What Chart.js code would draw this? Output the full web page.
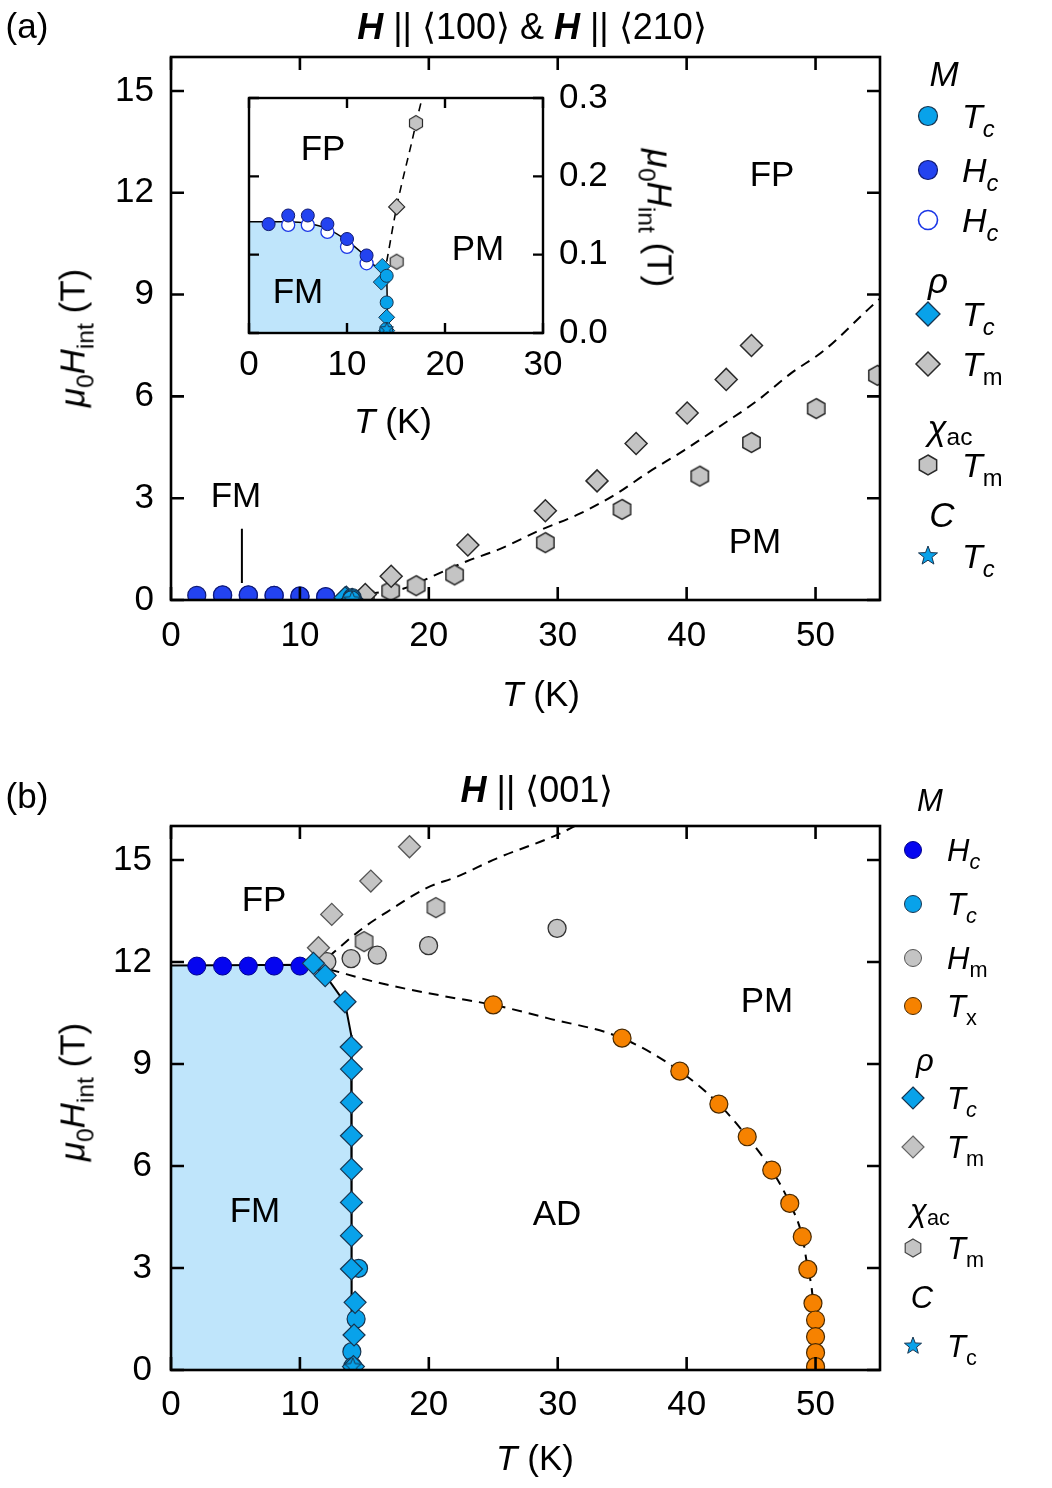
<!DOCTYPE html>
<html><head><meta charset="utf-8">
<script src="https://cdn.jsdelivr.net/npm/chart.js@4.4.1/dist/chart.umd.min.js"></script>
<style>
html,body{margin:0;padding:0;background:#fff;}
#wrap{position:relative;width:1052px;height:1488px;overflow:hidden;font-family:'Liberation Sans',Arial,sans-serif;color:#000;}
canvas{position:absolute;}
.t{position:absolute;white-space:nowrap;line-height:1;transform:translate(-50%,-50%);font-size:35px;}
.ti{font-size:36px;}
.l{position:absolute;white-space:nowrap;line-height:1;transform:translateY(-50%);font-size:34px;}
.lb{font-size:31px;}
.i{font-style:italic;}
.sub{position:relative;top:0.36em;font-size:0.7em;}
.rotL{transform:translate(-50%,-50%) rotate(-90deg);}
.rotR{transform:translate(-50%,-50%) rotate(90deg);}
</style></head>
<body><div id="wrap">
<canvas id="cA" width="1052" height="740" style="left:0;top:0;width:1052px;height:740px"></canvas>
<canvas id="cI" width="440" height="350" style="left:200px;top:50px;width:440px;height:350px"></canvas>
<canvas id="cB" width="1052" height="728" style="left:0;top:760px;width:1052px;height:728px"></canvas>

<!-- panel (a) texts -->
<div class="t" style="left:27px;top:25px">(a)</div>
<div class="t ti" style="left:532px;top:27px"><b><i>H</i></b> || ⟨100⟩ &amp; <b><i>H</i></b> || ⟨210⟩</div>
<div class="t" style="left:772px;top:173px">FP</div>
<div class="t" style="left:755px;top:540px">PM</div>
<div class="t" style="left:236px;top:494px">FM</div>
<div class="t" style="left:323px;top:147px">FP</div>
<div class="t" style="left:478px;top:247px">PM</div>
<div class="t" style="left:298px;top:290px">FM</div>
<div class="t" style="left:541px;top:693px"><span class="i">T</span> (K)</div>
<div class="t" style="left:393px;top:420px"><span class="i">T</span> (K)</div>
<div class="t rotL" style="left:72px;top:338px"><span class="i">μ</span><span class="sub">0</span><span class="i">H</span><span class="sub">int</span> (T)</div>
<div class="t rotR" style="left:660px;top:218px"><span class="i">μ</span><span class="sub">0</span><span class="i">H</span><span class="sub">int</span> (T)</div>
<!-- legend (a) -->
<div class="t i" style="left:944px;top:73px">M</div>
<div class="l" style="left:962px;top:116px"><span class="i">T</span><span class="sub i">c</span></div>
<div class="l" style="left:962px;top:170px"><span class="i">H</span><span class="sub i">c</span></div>
<div class="l" style="left:962px;top:220px"><span class="i">H</span><span class="sub i">c</span></div>
<div class="t i" style="left:938px;top:280px">ρ</div>
<div class="l" style="left:962px;top:314px"><span class="i">T</span><span class="sub i">c</span></div>
<div class="l" style="left:962px;top:364px"><span class="i">T</span><span class="sub">m</span></div>
<div class="t" style="left:950px;top:427px"><span class="i">χ</span><span class="sub" style="top:0.2em">ac</span></div>
<div class="l" style="left:962px;top:465px"><span class="i">T</span><span class="sub">m</span></div>
<div class="t i" style="left:942px;top:514px">C</div>
<div class="l" style="left:962px;top:556px"><span class="i">T</span><span class="sub i">c</span></div>

<!-- panel (b) texts -->
<div class="t" style="left:27px;top:795px">(b)</div>
<div class="t ti" style="left:537px;top:790px"><b><i>H</i></b> || ⟨001⟩</div>
<div class="t" style="left:264px;top:898px">FP</div>
<div class="t" style="left:767px;top:999px">PM</div>
<div class="t" style="left:255px;top:1209px">FM</div>
<div class="t" style="left:557px;top:1212px">AD</div>
<div class="t" style="left:535px;top:1457px"><span class="i">T</span> (K)</div>
<div class="t rotL" style="left:72px;top:1092px"><span class="i">μ</span><span class="sub">0</span><span class="i">H</span><span class="sub">int</span> (T)</div>
<!-- legend (b) -->
<div class="t i lb" style="left:930px;top:800px">M</div>
<div class="l lb" style="left:947px;top:850px"><span class="i">H</span><span class="sub i">c</span></div>
<div class="l lb" style="left:947px;top:904px"><span class="i">T</span><span class="sub i">c</span></div>
<div class="l lb" style="left:947px;top:958px"><span class="i">H</span><span class="sub">m</span></div>
<div class="l lb" style="left:947px;top:1006px"><span class="i">T</span><span class="sub">x</span></div>
<div class="t i lb" style="left:925px;top:1060px">ρ</div>
<div class="l lb" style="left:947px;top:1098px"><span class="i">T</span><span class="sub i">c</span></div>
<div class="l lb" style="left:947px;top:1147px"><span class="i">T</span><span class="sub">m</span></div>
<div class="t lb" style="left:930px;top:1210px"><span class="i">χ</span><span class="sub" style="top:0.2em">ac</span></div>
<div class="l lb" style="left:947px;top:1248px"><span class="i">T</span><span class="sub">m</span></div>
<div class="t i lb" style="left:922px;top:1297px">C</div>
<div class="l lb" style="left:947px;top:1346px"><span class="i">T</span><span class="sub">c</span></div>
</div>

<script>
// ================= DATA: panel (a)  H || <100> & <210> =================
const aXTicks = [0, 10, 20, 30, 40, 50];
const aYTicks = [0, 3, 6, 9, 12, 15];
const insXTicks = [0, 10, 20, 30];
const insYTicks = [0, 0.1, 0.2, 0.3];

// M: Tc (cyan circles)
const aMTcT = [14.05, 14.05, 14.0];
const aMTcH = [0.073, 0.039, 0.005];
// M: Hc (filled blue circles)
const aMHcT = [2, 4, 6, 8, 10, 12];
const aMHcH = [0.139, 0.150, 0.150, 0.139, 0.120, 0.099];
// M: Hc (open circles)
const aMHoT = [4, 6, 8, 10, 12];
const aMHoH = [0.138, 0.138, 0.129, 0.110, 0.089];
// rho: Tc (cyan diamonds)
const aRTcT = [13.6, 13.5, 14.05, 14.05];
const aRTcH = [0.085, 0.065, 0.02, 0.003];
// rho: Tm (gray diamonds)
const aRTmT = [15.07, 17.08, 23.03, 29.04, 33.05, 36.08, 40.04, 43.07, 45.03];
const aRTmH = [0.161, 0.70, 1.62, 2.63, 3.51, 4.61, 5.51, 6.50, 7.50];
// chi_ac: Tm (gray hexagons)
const aXTmT = [15.07, 17.04, 19.02, 22.0, 29.04, 34.99, 41.02, 45.03, 50.05, 54.8];
const aXTmH = [0.091, 0.268, 0.42, 0.74, 1.69, 2.67, 3.65, 4.64, 5.64, 6.62];
// C: Tc (star)
const aCTcT = [14.05];
const aCTcH = [0.005];
// FP / PM crossover (dashed)
const aDashT = [14.05, 15.07, 17.04, 18.0, 20.4, 23.0, 25.3, 28.65, 31.75, 34.6, 36.9, 39.8, 42.9, 45.5, 48.06, 50.65, 54.27, 55];
const aDashH = [0.091, 0.161, 0.268, 0.33, 0.72, 1.15, 1.47, 2.06, 2.55, 3.14, 3.73, 4.41, 5.2, 5.88, 6.67, 7.35, 8.63, 8.88];
// FM boundary (inset, solid + fill)
const aFmT = [0, 2, 4, 6, 8, 10, 12, 13, 14.05, 14.15];
const aFmH = [0.142, 0.142, 0.142, 0.140, 0.133, 0.118, 0.097, 0.085, 0.072, 0.0];
// leader line under "FM" label
const aLeadT = [5.5, 5.5];
const aLeadH = [0.5, 2.1];

// ================= DATA: panel (b)  H || <001> =================
const bXTicks = [0, 10, 20, 30, 40, 50];
const bYTicks = [0, 3, 6, 9, 12, 15];
const bMHcT = [2, 4, 6, 8, 10];
const bMHcH = [11.88, 11.88, 11.88, 11.88, 11.88];
const bMTcT = [14.55, 14.36, 14.03, 14.1];
const bMTcH = [2.99, 1.5, 0.54, 0.1];
const bMHmT = [12.09, 13.97, 16.0, 19.98, 29.95];
const bMHmH = [12.01, 12.1, 12.2, 12.48, 12.99];
const bMTxT = [25.0, 34.99, 39.47, 42.5, 44.7, 46.6, 48.0, 48.97, 49.4, 49.8, 50.0, 50.0, 50.0, 50.0];
const bMTxH = [10.74, 9.76, 8.79, 7.82, 6.86, 5.88, 4.9, 3.92, 2.96, 1.96, 1.47, 0.98, 0.51, 0.1];
const bRTcT = [11.05, 11.96, 13.5, 13.98, 14.0, 14.0, 14.0, 14.0, 14.0, 14.0, 14.0, 14.28, 14.2, 14.15];
const bRTcH = [11.96, 11.6, 10.83, 9.5, 8.85, 7.87, 6.89, 5.91, 4.93, 3.95, 2.97, 1.99, 1.03, 0.1];
const bRTmT = [11.44, 12.47, 15.5, 18.5];
const bRTmH = [12.42, 13.4, 14.38, 15.39];
const bXTmT = [14.98, 20.55];
const bXTmH = [12.6, 13.6];
const bCTcT = [14.1];
const bCTcH = [0.1];
const bFmT = [0, 11.0, 12.0, 13.5, 13.98, 14.0, 14.03];
const bFmH = [11.9, 11.92, 11.6, 10.8, 9.85, 5.0, 0.0];
const bUpT = [12.2, 14.9, 17.0, 19.85, 22.18, 25.29, 29.95, 31.6];
const bUpH = [12.15, 13.0, 13.53, 14.18, 14.51, 15.05, 15.74, 16.05];
const bLoT = [12.3, 16.2, 21.4, 25.0, 29.2, 34.99, 39.47, 42.5, 44.7, 46.6, 48.0, 48.97, 49.4, 49.8, 50.0];
const bLoH = [11.78, 11.38, 10.98, 10.74, 10.35, 9.76, 8.79, 7.82, 6.86, 5.88, 4.9, 3.92, 2.96, 1.96, 0.0];

// ================= styles =================
const C_CYAN = '#08a2ea', C_CYAN_E = '#17344f';
const C_BLUE = '#2343f0', C_BLUE_E = '#101a70';
const C_BLUE2 = '#0505f0', C_BLUE2_E = '#00008a';
const C_GRAY = '#c4c4c4', C_GRAY_E = '#2a2a2a';
const C_ORANGE = '#f68200', C_ORANGE_E = '#4a2a00';
const C_FILL = '#bfe5fb';

Chart.defaults.font.family = "'Liberation Sans', Arial, sans-serif";
Chart.defaults.color = '#000';

const xy = (xs, ys) => xs.map((x, i) => ({x: x, y: ys[i]}));

function drawMarker(g, shape, x, y, r, fill, stroke, lw) {
  g.save(); g.beginPath();
  if (shape === 'circle') g.arc(x, y, r, 0, 2 * Math.PI);
  else if (shape === 'diamond') { g.moveTo(x, y - r); g.lineTo(x + r, y); g.lineTo(x, y + r); g.lineTo(x - r, y); g.closePath(); }
  else if (shape === 'hex') {
    for (let k = 0; k < 6; k++) { const a = -Math.PI / 2 + k * Math.PI / 3; const px = x + r * Math.cos(a), py = y + r * Math.sin(a); if (k) g.lineTo(px, py); else g.moveTo(px, py); }
    g.closePath();
  } else if (shape === 'star') {
    for (let k = 0; k < 10; k++) { const a = -Math.PI / 2 + k * Math.PI / 5; const rr = (k % 2) ? r * 0.42 : r; const px = x + rr * Math.cos(a), py = y + rr * Math.sin(a); if (k) g.lineTo(px, py); else g.moveTo(px, py); }
    g.closePath();
  }
  g.fillStyle = fill; g.fill();
  if (lw > 0) { g.lineWidth = lw; g.strokeStyle = stroke; g.lineJoin = 'miter'; g.stroke(); }
  g.restore();
}
function makeImg(shape, r, fill, stroke, lw) {
  const c = document.createElement('canvas');
  const s = Math.ceil(2 * r + 2 * lw + 2);
  c.width = s; c.height = s;
  drawMarker(c.getContext('2d'), shape, s / 2, s / 2, r, fill, stroke, lw);
  return c;
}
function pts(label, data, shape, r, fill, stroke, lw, order) {
  const d = {label: label, data: data, showLine: false, order: order, clip: 0,
    pointBackgroundColor: fill, pointBorderColor: stroke, pointBorderWidth: lw,
    pointRadius: r, pointHoverRadius: r};
  if (shape === 'circle') d.pointStyle = 'circle';
  else if (shape === 'diamond') d.pointStyle = 'rectRot';
  else d.pointStyle = makeImg(shape, r, fill, stroke, lw);
  return d;
}
function line(label, data, dash, order, extra) {
  return Object.assign({label: label, data: data, showLine: true, pointRadius: 0, pointHoverRadius: 0,
    borderColor: '#000', borderWidth: 2, borderDash: dash, fill: false, order: order, clip: 0,
    cubicInterpolationMode: 'monotone'}, extra || {});
}
function frame(len, lw) {
  return {id: 'frame', afterDatasetsDraw(chart) {
    const ctx = chart.ctx, a = chart.chartArea, x = chart.scales.x, y = chart.scales.y;
    ctx.save(); ctx.strokeStyle = '#000'; ctx.lineWidth = lw; ctx.lineCap = 'butt';
    ctx.beginPath();
    x.ticks.forEach(t => { const p = x.getPixelForValue(t.value); ctx.moveTo(p, a.bottom); ctx.lineTo(p, a.bottom - len); ctx.moveTo(p, a.top); ctx.lineTo(p, a.top + len); });
    y.ticks.forEach(t => { const p = y.getPixelForValue(t.value); ctx.moveTo(a.left, p); ctx.lineTo(a.left + len, p); ctx.moveTo(a.right, p); ctx.lineTo(a.right - len, p); });
    ctx.stroke();
    ctx.strokeRect(a.left, a.top, a.right - a.left, a.bottom - a.top);
    ctx.restore();
  }};
}
function legendPlugin(items, dy) {
  return {id: 'lg', afterDraw(chart) {
    const ctx = chart.ctx;
    items.forEach(it => drawMarker(ctx, it[0], it[1], it[2] - dy, it[3], it[4], it[5], it[6]));
  }};
}
function axis(ticksArr, min, max, size, pad, fit, pos, cb) {
  const o = {type: 'linear', min: min, max: max, position: pos,
    grid: {display: false, drawTicks: false, tickLength: 0}, border: {display: false},
    ticks: {font: {size: size}, color: '#000', padding: pad, maxRotation: 0, autoSkip: false},
    afterBuildTicks: s => { s.ticks = ticksArr.map(v => ({value: v})); },
    afterFit: s => { if (s.isHorizontal()) s.height = fit; else s.width = fit; }};
  if (cb) o.ticks.callback = cb;
  return o;
}
const common = {responsive: false, animation: false, events: [],
  plugins: {legend: {display: false}, tooltip: {enabled: false}}};

// ================= chart (a) main =================
const aSets = [
  pts('C Tc', xy(aCTcT, aCTcH), 'star', 9, C_CYAN, C_CYAN_E, 1, 0),
  pts('M Tc', xy(aMTcT, aMTcH), 'circle', 9, C_CYAN, C_CYAN_E, 1.2, 1),
  pts('rho Tc', xy(aRTcT, aRTcH), 'diamond', 11, C_CYAN, C_CYAN_E, 1.2, 2),
  pts('M Hc', xy(aMHcT, aMHcH), 'circle', 9, C_BLUE, C_BLUE_E, 1.2, 3),
  pts('M Hc open', xy(aMHoT, aMHoH), 'circle', 9, '#fff', '#1a36e6', 1.5, 4),
  pts('rho Tm', xy(aRTmT, aRTmH), 'diamond', 11, C_GRAY, C_GRAY_E, 1.5, 5),
  pts('chi Tm', xy(aXTmT, aXTmH), 'hex', 10, C_GRAY, C_GRAY_E, 1.5, 6),
  line('crossover', xy(aDashT, aDashH), [10, 7], 10),
  line('lead', xy(aLeadT, aLeadH), [], 10, {cubicInterpolationMode: 'default', tension: 0})
];
new Chart(document.getElementById('cA'), {
  type: 'scatter', data: {datasets: aSets},
  options: Object.assign({}, common, {
    layout: {padding: {left: 0, right: 172, top: 57, bottom: 0}},
    scales: {x: axis(aXTicks, 0, 55, 35, 15, 140, 'bottom'), y: axis(aYTicks, 0, 16, 35, 17, 171, 'left')}
  }),
  plugins: [frame(13, 2.6), legendPlugin([
    ['circle', 928, 116, 9.5, C_CYAN, C_CYAN_E, 1.2],
    ['circle', 928, 170, 9.5, C_BLUE, C_BLUE_E, 1.2],
    ['circle', 928, 220, 9.5, '#fff', '#1a36e6', 1.6],
    ['diamond', 928, 314, 12, C_CYAN, C_CYAN_E, 1.3],
    ['diamond', 928, 364, 12, C_GRAY, C_GRAY_E, 1.5],
    ['hex', 928, 465, 10, C_GRAY, C_GRAY_E, 1.5],
    ['star', 928, 556, 10, C_CYAN, C_CYAN_E, 1]
  ], 0)]
});

// ================= inset of (a) =================
const iSets = [
  pts('C Tc', xy(aCTcT, aCTcH), 'star', 7, C_CYAN, C_CYAN_E, 1, 0),
  pts('M Tc', xy(aMTcT, aMTcH), 'circle', 6.5, C_CYAN, C_CYAN_E, 1, 1),
  pts('rho Tc', xy(aRTcT, aRTcH), 'diamond', 8, C_CYAN, C_CYAN_E, 1, 2),
  pts('M Hc', xy(aMHcT, aMHcH), 'circle', 6.5, C_BLUE, C_BLUE_E, 1, 3),
  pts('M Hc open', xy(aMHoT, aMHoH), 'circle', 6.5, '#fff', '#1a36e6', 1.3, 4),
  pts('rho Tm', xy(aRTmT, aRTmH), 'diamond', 8, C_GRAY, C_GRAY_E, 1.2, 5),
  pts('chi Tm', xy(aXTmT, aXTmH), 'hex', 7.5, C_GRAY, C_GRAY_E, 1.2, 6),
  line('crossover', xy(aDashT, aDashH), [8, 6], 10, {borderWidth: 1.6}),
  line('FM boundary', xy(aFmT, aFmH), [], 20, {fill: 'origin', backgroundColor: C_FILL, borderWidth: 1.5})
];
new Chart(document.getElementById('cI'), {
  type: 'scatter', data: {datasets: iSets},
  options: Object.assign({}, common, {
    layout: {padding: {left: 49, right: 17, top: 48, bottom: 0}},
    scales: {x: axis(insXTicks, 0, 30, 35, 11, 67, 'bottom'),
             y: axis(insYTicks, 0, 0.3, 35, 16, 80, 'right', v => Number(v).toFixed(1))}
  }),
  plugins: [{id: 'bg', beforeDatasetsDraw(chart) { const a = chart.chartArea, c = chart.ctx; c.save(); c.fillStyle = '#fff'; c.fillRect(a.left, a.top, a.right - a.left, a.bottom - a.top); c.restore(); }},
            frame(10, 2.4)]
});

// ================= chart (b) =================
const bSets = [
  pts('C Tc', xy(bCTcT, bCTcH), 'star', 9, C_CYAN, C_CYAN_E, 1, 0),
  pts('rho Tc', xy(bRTcT, bRTcH), 'diamond', 11, C_CYAN, C_CYAN_E, 1.2, 1),
  pts('M Tc', xy(bMTcT, bMTcH), 'circle', 9, C_CYAN, C_CYAN_E, 1.2, 2),
  pts('M Hc', xy(bMHcT, bMHcH), 'circle', 9, C_BLUE2, C_BLUE2_E, 1, 3),
  pts('rho Tm', xy(bRTmT, bRTmH), 'diamond', 11, C_GRAY, '#555', 1.3, 4),
  pts('M Hm', xy(bMHmT, bMHmH), 'circle', 9, C_GRAY, '#333', 1.3, 5),
  pts('chi Tm', xy(bXTmT, bXTmH), 'hex', 10, C_GRAY, '#333', 1.3, 6),
  pts('M Tx', xy(bMTxT, bMTxH), 'circle', 9, C_ORANGE, C_ORANGE_E, 1.2, 7),
  line('upper', xy(bUpT, bUpH), [10, 7], 10),
  line('lower', xy(bLoT, bLoH), [10, 7], 10),
  line('FM boundary', xy(bFmT, bFmH), [], 20, {fill: 'origin', backgroundColor: C_FILL, borderWidth: 2, cubicInterpolationMode: 'default', tension: 0})
];
new Chart(document.getElementById('cB'), {
  type: 'scatter', data: {datasets: bSets},
  options: Object.assign({}, common, {
    layout: {padding: {left: 0, right: 172, top: 66, bottom: 0}},
    scales: {x: axis(bXTicks, 0, 55, 35, 14, 118, 'bottom'), y: axis(bYTicks, 0, 16, 35, 19, 171, 'left')}
  }),
  plugins: [frame(13, 2.6), legendPlugin([
    ['circle', 913, 850, 8.5, C_BLUE2, C_BLUE2_E, 1],
    ['circle', 913, 904, 8.5, C_CYAN, C_CYAN_E, 1],
    ['circle', 913, 958, 8.5, C_GRAY, '#555', 1],
    ['circle', 913, 1006, 8.5, C_ORANGE, C_ORANGE_E, 1],
    ['diamond', 913, 1098, 11, C_CYAN, C_CYAN_E, 1.2],
    ['diamond', 913, 1147, 11, C_GRAY, '#666', 1.2],
    ['hex', 913, 1248, 9, C_GRAY, '#444', 1.2],
    ['star', 913, 1346, 9, C_CYAN, C_CYAN_E, 1]
  ], 760)]
});
</script>
</body></html>
